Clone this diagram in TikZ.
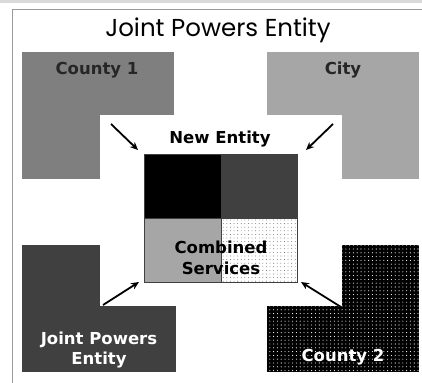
\documentclass[tikz,border=0pt]{standalone}
\usepackage{fontspec}
\setmainfont{DejaVu Sans}
\newfontfamily\titlefont{Poppins}
\usetikzlibrary{patterns.meta,arrows.meta}
\definecolor{gA}{HTML}{7F7F7F}
\definecolor{gB}{HTML}{A6A6A6}
\definecolor{gC}{HTML}{404040}
\definecolor{band}{HTML}{D9D9D9}
\definecolor{frm}{HTML}{9A9A9A}
\begin{document}
\begin{tikzpicture}[x=1pt,y=-1pt,
  lbl/.style={font=\fontsize{16.5}{20.5}\selectfont\bfseries, inner sep=0pt},
  arr/.style={-{Stealth[length=8pt,width=7pt]}, line width=1.8pt, black},
  cell/.style={draw=gC, line width=0.6pt}]
\useasboundingbox (0,0) rectangle (422,382);
\fill[band] (0,0) rectangle (422,3);
\draw[frm, line width=1.5pt] (12.5,9.5) rectangle (430,390);
\node[font=\titlefont\fontsize{24.5}{28}\selectfont, inner sep=0pt] (title) at (218,30) {Joint Powers Entity};
% quadrant shapes
\fill[gA] (22,52) rectangle (174,179);
\fill[gB] (267,52) rectangle (419,179);
\fill[gC] (22,245) rectangle (176,372);
\fill[black] (267,245) rectangle (419,372);
\fill[pattern={Dots[radius=0.55pt,distance=3.8pt]}, pattern color=white] (267,245) rectangle (419,372);
\fill[white] (100,115) rectangle (342,306);
% labels
\node[lbl, text=black!85] (c1) at (97,70) {County 1};
\node[lbl, text=black!85] (city) at (343,70) {City};
\node[lbl, text=white, align=center] (jpe) at (99,350) {Joint Powers\\Entity};
\node[lbl, text=white] (c2) at (343,357) {County 2};
% center grid
\fill[black] (144,154) rectangle (221,218);
\fill[gC] (221,154) rectangle (297,218);
\fill[gB] (144,218) rectangle (221,282);
\fill[white] (221,218) rectangle (297,282);
\fill[pattern={Dots[radius=0.45pt,distance=3.6pt]}, pattern color=black!65] (221,218) rectangle (297,282);
\draw[cell] (144,154) rectangle (297,282);
\draw[cell] (221,154) -- (221,282) (144,218) -- (297,218);
\node[lbl] (ne) at (220,139) {New Entity};
\node[lbl, align=center] (cs) at (221,258) {Combined\\Services};
% arrows
\coordinate (a1s) at (111,124); \coordinate (a1e) at (138,150);
\coordinate (a2s) at (333,124); \coordinate (a2e) at (306,150);
\coordinate (a3s) at (103,305); \coordinate (a3e) at (139,282);
\coordinate (a4s) at (341,307); \coordinate (a4e) at (301,282);
\draw[arr] (a1s) -- (a1e);
\draw[arr] (a2s) -- (a2e);
\draw[arr] (a3s) -- (a3e);
\draw[arr] (a4s) -- (a4e);
\end{tikzpicture}
\end{document}
